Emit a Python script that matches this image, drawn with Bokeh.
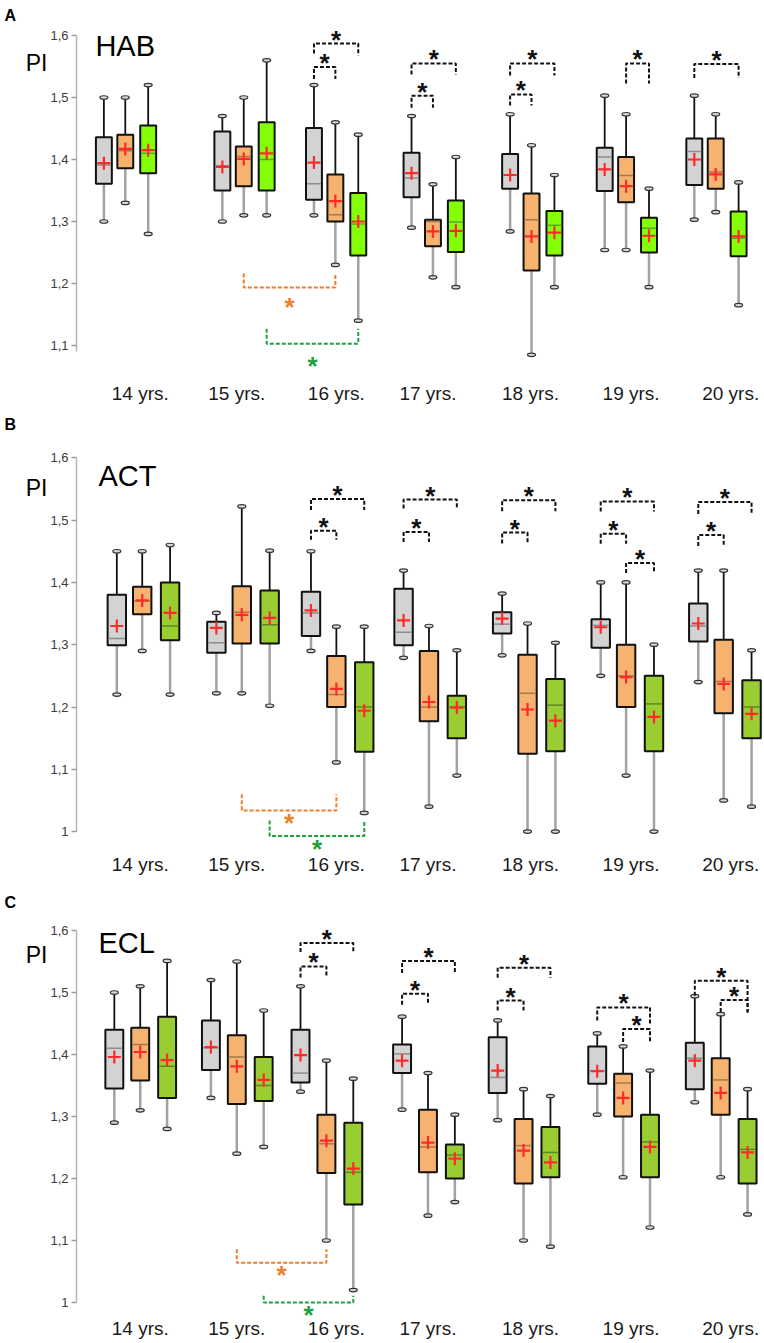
from bokeh.plotting import figure
from bokeh.layouts import column, row
from bokeh.models import Range1d, FixedTicker, CustomJSTickFormatter
from bokeh.core.properties import value
from bokeh.embed import file_html
from bokeh.resources import INLINE

# ---------------- data ----------------
AGES = ["14 yrs.", "15 yrs.", "16 yrs.", "17 yrs.", "18 yrs.", "19 yrs.", "20 yrs."]

HAB_GREY = dict(lo=[1.30, 1.30, 1.31, 1.29, 1.284, 1.254, 1.303],
                q1=[1.361, 1.35, 1.335, 1.339, 1.353, 1.349, 1.359],
                med=[1.391, 1.39, 1.361, 1.37, 1.375, 1.404, 1.413],
                q3=[1.436, 1.445, 1.451, 1.411, 1.409, 1.419, 1.434],
                hi=[1.50, 1.47, 1.52, 1.47, 1.473, 1.503, 1.503],
                mean=[1.394, 1.388, 1.395, 1.378, 1.375, 1.384, 1.40])
HAB_ORANGE = dict(lo=[1.33, 1.31, 1.23, 1.21, 1.085, 1.254, 1.315],
                  q1=[1.386, 1.357, 1.30, 1.26, 1.221, 1.331, 1.353],
                  med=[1.414, 1.405, 1.311, 1.30, 1.303, 1.374, 1.38],
                  q3=[1.44, 1.421, 1.376, 1.303, 1.345, 1.404, 1.434],
                  hi=[1.50, 1.50, 1.46, 1.36, 1.423, 1.473, 1.473],
                  mean=[1.417, 1.401, 1.333, 1.284, 1.276, 1.357, 1.376])
HAB_GREEN = dict(lo=[1.28, 1.31, 1.14, 1.194, 1.194, 1.194, 1.165],
                 q1=[1.378, 1.35, 1.245, 1.251, 1.245, 1.25, 1.244],
                 med=[1.41, 1.40, 1.296, 1.299, 1.294, 1.289, 1.273],
                 q3=[1.455, 1.46, 1.346, 1.334, 1.317, 1.306, 1.316],
                 hi=[1.52, 1.56, 1.44, 1.404, 1.375, 1.353, 1.363],
                 mean=[1.415, 1.41, 1.30, 1.285, 1.282, 1.277, 1.276])

ACT_GREY = dict(lo=[1.22, 1.222, 1.29, 1.279, 1.283, 1.25, 1.24],
                q1=[1.299, 1.287, 1.314, 1.299, 1.318, 1.295, 1.305],
                med=[1.31, 1.303, 1.351, 1.32, 1.333, 1.331, 1.33],
                q3=[1.38, 1.337, 1.385, 1.39, 1.352, 1.341, 1.366],
                hi=[1.45, 1.351, 1.45, 1.419, 1.382, 1.40, 1.419],
                mean=[1.33, 1.327, 1.355, 1.339, 1.342, 1.328, 1.334])
ACT_ORANGE = dict(lo=[1.29, 1.222, 1.111, 1.04, 1.0, 1.09, 1.05],
                  q1=[1.349, 1.302, 1.20, 1.177, 1.125, 1.20, 1.19],
                  med=[1.37, 1.352, 1.22, 1.20, 1.222, 1.25, 1.241],
                  q3=[1.393, 1.394, 1.282, 1.29, 1.284, 1.30, 1.308],
                  hi=[1.45, 1.522, 1.329, 1.33, 1.334, 1.40, 1.419],
                  mean=[1.371, 1.348, 1.229, 1.208, 1.196, 1.248, 1.237])
ACT_GREEN = dict(lo=[1.22, 1.202, 1.03, 1.09, 1.0, 1.0, 1.04],
                 q1=[1.307, 1.302, 1.128, 1.15, 1.129, 1.129, 1.15],
                 med=[1.33, 1.332, 1.20, 1.20, 1.203, 1.205, 1.20],
                 q3=[1.40, 1.387, 1.272, 1.218, 1.245, 1.25, 1.243],
                 hi=[1.46, 1.451, 1.329, 1.291, 1.303, 1.30, 1.291],
                 mean=[1.351, 1.343, 1.194, 1.199, 1.178, 1.184, 1.189])

ECL_GREY = dict(lo=[1.29, 1.33, 1.34, 1.311, 1.294, 1.303, 1.323],
                q1=[1.345, 1.375, 1.355, 1.37, 1.338, 1.353, 1.344],
                med=[1.41, 1.411, 1.37, 1.401, 1.363, 1.374, 1.394],
                q3=[1.44, 1.455, 1.44, 1.416, 1.428, 1.413, 1.419],
                hi=[1.50, 1.52, 1.51, 1.461, 1.455, 1.434, 1.494],
                mean=[1.396, 1.412, 1.399, 1.39, 1.374, 1.373, 1.39])
ECL_ORANGE = dict(lo=[1.31, 1.24, 1.10, 1.14, 1.10, 1.202, 1.202],
                  q1=[1.358, 1.32, 1.209, 1.21, 1.192, 1.30, 1.303],
                  med=[1.416, 1.396, 1.256, 1.251, 1.253, 1.354, 1.359],
                  q3=[1.443, 1.431, 1.303, 1.311, 1.296, 1.369, 1.394],
                  hi=[1.51, 1.55, 1.39, 1.37, 1.344, 1.413, 1.465],
                  mean=[1.404, 1.381, 1.261, 1.258, 1.245, 1.33, 1.338])
ECL_GREEN = dict(lo=[1.28, 1.251, 1.02, 1.162, 1.09, 1.121, 1.142],
                 q1=[1.33, 1.325, 1.158, 1.20, 1.202, 1.202, 1.192],
                 med=[1.381, 1.35, 1.21, 1.238, 1.242, 1.259, 1.247],
                 q3=[1.461, 1.396, 1.29, 1.255, 1.283, 1.303, 1.296],
                 hi=[1.551, 1.471, 1.361, 1.303, 1.333, 1.374, 1.344],
                 mean=[1.391, 1.359, 1.216, 1.232, 1.226, 1.251, 1.242])

# significance within an age group: (age index, series a, series b, level)
HAB_SIG = [(2, 0, 1, 1.549), (2, 0, 2, 1.587), (3, 0, 1, 1.503), (3, 0, 2, 1.555),
           (4, 0, 1, 1.505), (4, 0, 2, 1.555), (5, 1, 2, 1.555), (6, 0, 2, 1.554)]
ACT_SIG = [(2, 0, 1, 1.483), (2, 0, 2, 1.534), (3, 0, 1, 1.481), (3, 0, 2, 1.533),
           (4, 0, 1, 1.480), (4, 0, 2, 1.532), (5, 0, 1, 1.478), (5, 0, 2, 1.530),
           (5, 1, 2, 1.431), (6, 0, 1, 1.476), (6, 0, 2, 1.529)]
ECL_SIG = [(2, 0, 1, 1.542), (2, 0, 2, 1.580), (3, 0, 1, 1.498), (3, 0, 2, 1.551),
           (4, 0, 1, 1.487), (4, 0, 2, 1.540), (5, 0, 2, 1.476), (5, 1, 2, 1.441),
           (6, 0, 2, 1.519), (6, 1, 2, 1.488)]
# significance between ages: (series, age from, age to, level, leg top, star level)
HAB_CROSS = [(1, 1, 2, 1.1935, 1.216, 1.168), (2, 1, 2, 1.103, 1.127, 1.073)]
ACT_CROSS = [(1, 1, 2, 1.034, 1.060, 1.021), (2, 1, 2, 0.993, 1.018, 0.979)]
ECL_CROSS = [(1, 1, 2, 1.064, 1.086, 1.051), (2, 1, 2, 1.000, 1.011, 0.986)]

# ---------------- layout / style ----------------
TOTAL_W = 764
SIDE_W = 47          # narrow figure holding panel letter and "PI"
AXIS_W = 26          # border of the main figure holding the y axis
FX0 = SIDE_W + AXIS_W
FX1 = TOTAL_W
FONT = "Liberation Sans"
GREY_FILL, GREY_MED = "#d3d3d3", "#8c8c8c"
ORANGE_FILL, ORANGE_MED = "#f6b26f", "#a8794c"
CROSS_COL = {1: "#f07d2a", 2: "#1fa13c"}
LABEL_X = [137, 234, 334, 426, 529, 630, 730]
STAR_SIZE = 26
STAR_SHIFT = 4       # px offset of the asterisk baseline below its anchor

SIG_LEGS = {
    "HAB": [(12, 12), (10, 12), (12, 12), (11, 11), (11, 11), (12, 12), (20, 20), (14, 14)],
    "ACT": [(9, 9), (11, 11), (10, 10), (9, 9), (11, 11), (11, 11), (10, 10), (10, 10),
            (10, 10), (11, 11), (12, 12)],
    "ECL": [(11, 11), (9, 9), (11, 11), (12, 12), (10, 10), (10, 10), (13, 16), (13, 13),
            (15, 32), (12, 12)],
}

PANELS = [
    dict(name="HAB", letter="A", data=[HAB_GREY, HAB_ORANGE, HAB_GREEN], sig=HAB_SIG, cross=HAB_CROSS,
         top=0, bot=414, y16=35, ppu=620, centers=[122, 241, 333, 431, 530, 625, 715],
         offs=(-21.5, 0, 23), box_w=16, green="#84ff08", green_med="#5aa82a", axis_lo=1.09,
         ticks=[1.1, 1.2, 1.3, 1.4, 1.5, 1.6], letter_y=15, title_xy=(92, 45), pi_y=62,
         label_y=393),
    dict(name="ACT", letter="B", data=[ACT_GREY, ACT_ORANGE, ACT_GREEN], sig=ACT_SIG, cross=ACT_CROSS,
         top=414, bot=888, y16=457.3, ppu=623, centers=[139, 239, 334, 427, 526, 625, 723],
         offs=(-25.5, 0, 28), box_w=18.5, green="#9acd32", green_med="#5b8a25", axis_lo=1.0,
         ticks=[1.0, 1.1, 1.2, 1.3, 1.4, 1.5, 1.6], letter_y=424, title_xy=(95, 475), pi_y=487,
         label_y=864),
    dict(name="ECL", letter="C", data=[ECL_GREY, ECL_ORANGE, ECL_GREEN], sig=ECL_SIG, cross=ECL_CROSS,
         top=888, bot=1343, y16=930, ppu=620, centers=[137, 234, 324, 426, 522, 622, 720],
         offs=(-26, 0, 27), box_w=18, green="#9acd32", green_med="#5b8a25", axis_lo=1.0,
         ticks=[1.0, 1.1, 1.2, 1.3, 1.4, 1.5, 1.6], letter_y=902, title_xy=(95, 942), pi_y=954,
         label_y=1328),
]


def star_text(p, xs, ys, color):
    p.text(x=xs, y=ys, text=["*"] * len(xs), text_font=value(FONT), text_font_style="bold",
           text_font_size="%dpx" % STAR_SIZE, text_align="center", text_baseline="alphabetic",
           y_offset=STAR_SHIFT, text_color=color)


def draw_panel(P):
    y16, ppu = P["y16"], P["ppu"]

    def yd(py):
        return 1.6 - (py - y16) / ppu

    h = P["bot"] - P["top"]
    yr = Range1d(yd(P["bot"]), yd(P["top"]))

    # side strip: panel letter and axis title
    s = figure(width=SIDE_W, height=h, x_range=Range1d(0, SIDE_W), y_range=yr,
               output_backend="svg", toolbar_location=None, x_axis_location=None,
               y_axis_location=None, min_border_left=0, min_border_right=0,
               min_border_top=0, min_border_bottom=0)
    s.outline_line_color = None
    s.grid.visible = False
    s.text(x=[4], y=[yd(P["letter_y"])], text=[P["letter"]], text_font=value(FONT),
           text_font_style="bold", text_font_size="16px", text_align="left",
           text_baseline="middle", text_color="black")
    s.text(x=[SIDE_W], y=[yd(P["pi_y"])], text=["PI"], text_font=value(FONT),
           text_font_size="23px", text_align="right", text_baseline="middle", text_color="black")

    p = figure(width=TOTAL_W - SIDE_W, height=h, x_range=Range1d(FX0, FX1), y_range=yr,
               output_backend="svg", toolbar_location=None, x_axis_location=None,
               min_border_left=AXIS_W, min_border_right=0, min_border_top=0, min_border_bottom=0)
    p.outline_line_color = None
    p.grid.visible = False

    ax = p.yaxis[0]
    ax.ticker = FixedTicker(ticks=P["ticks"])
    ax.formatter = CustomJSTickFormatter(
        code="const s = tick.toFixed(1).replace('.', ','); return s === '1,0' ? '1' : s;")
    ax.bounds = (P["axis_lo"], 1.6)
    ax.axis_line_color = "#b4b4b4"
    ax.axis_line_width = 1.5
    ax.major_tick_line_color = "#9a9a9a"
    ax.major_tick_line_width = 1.5
    ax.major_tick_out = 5
    ax.major_tick_in = 0
    ax.minor_tick_line_color = None
    ax.major_label_text_font = FONT
    ax.major_label_text_font_size = "13px"
    ax.major_label_text_color = "#3c3c3c"
    ax.major_label_standoff = 3

    centers, offs, bw = P["centers"], P["offs"], P["box_w"]
    fills = [GREY_FILL, ORANGE_FILL, P["green"]]
    meds = [GREY_MED, ORANGE_MED, P["green_med"]]

    for j, st in enumerate(P["data"]):
        xs = [c + offs[j] for c in centers]
        hw = bw / 2.0
        p.segment(xs, st["q1"], xs, st["lo"], line_color="#a2a2a2", line_width=2.5)
        p.segment(xs, st["q3"], xs, st["hi"], line_color="#111111", line_width=1.8)
        for key in ("lo", "hi"):
            p.ellipse(xs, st[key], width=8, height=3.5, width_units="screen", height_units="screen",
                      fill_color="#d8d8d8", line_color="#333333", line_width=1.2)
        p.vbar(x=xs, width=bw, bottom=st["q1"], top=st["q3"], fill_color=fills[j],
               line_color="#111111", line_width=2)
        p.segment([x - hw + 1 for x in xs], st["med"], [x + hw - 1 for x in xs], st["med"],
                  line_color=meds[j], line_width=1.5)
        p.scatter(xs, st["mean"], marker="cross", size=13, line_color="#ff2a2a", line_width=2.2)

    # within-age brackets
    sx, sy = [], []
    for (a, i, j, lvl), (l1, l2) in zip(P["sig"], SIG_LEGS[P["name"]]):
        x0 = centers[a] + offs[i]
        x1 = centers[a] + offs[j]
        p.line([x0, x0, x1, x1], [lvl - l1 / ppu, lvl, lvl, lvl - l2 / ppu],
               line_color="#111111", line_width=2, line_dash="4 2")
        sx.append((x0 + x1) / 2)
        sy.append(lvl + 8 / ppu)
    star_text(p, sx, sy, "#111111")

    # between-age brackets
    for (sr, a0, a1, lvl, legtop, sty) in P["cross"]:
        x0 = centers[a0] + offs[sr]
        x1 = centers[a1] + offs[sr]
        col = CROSS_COL[sr]
        p.line([x0, x0, x1, x1], [legtop, lvl, lvl, legtop], line_color=col, line_width=2,
               line_dash="4 2")
        star_text(p, [(x0 + x1) / 2], [sty], col)

    # category labels
    p.text(x=LABEL_X, y=[yd(P["label_y"])] * len(AGES), text=AGES, text_font=value(FONT),
           text_font_size="19px", text_align="center", text_baseline="middle", text_color="#1a1a1a")

    # panel title
    p.text(x=[P["title_xy"][0]], y=[yd(P["title_xy"][1])], text=[P["name"]], text_font=value(FONT),
           text_font_size="29px", text_align="left", text_baseline="middle", text_color="black")
    return row(s, p)


layout = column(*[draw_panel(P) for P in PANELS])
open("out.html", "w").write(file_html(layout, INLINE))
